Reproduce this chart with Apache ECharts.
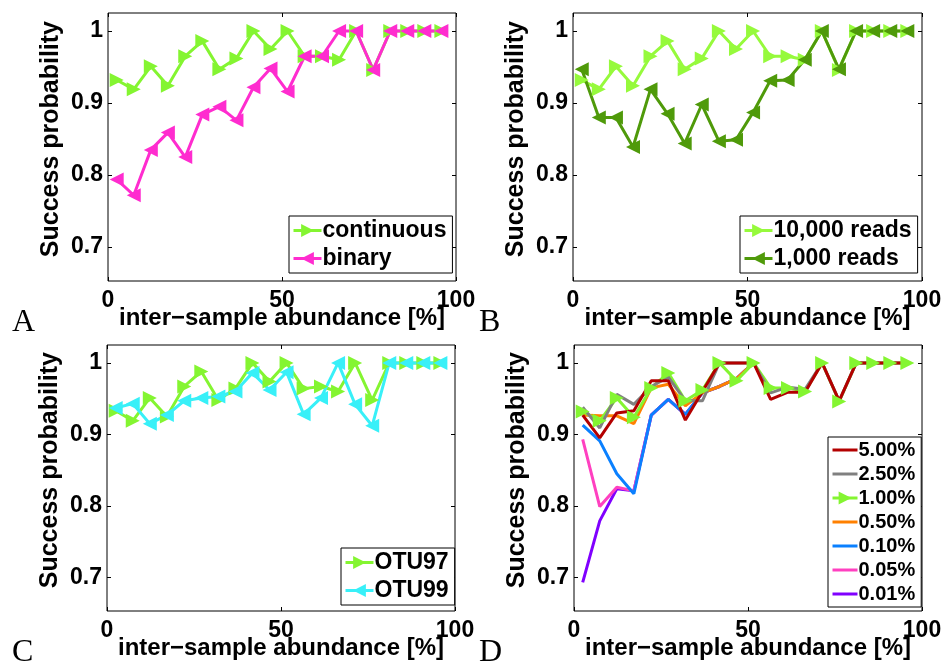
<!DOCTYPE html>
<html>
<head>
<meta charset="utf-8">
<script src="https://cdn.jsdelivr.net/npm/echarts@6/dist/echarts.min.js"></script>
<style>
html, body { margin: 0; padding: 0; background: #fff; }
#chart { width: 946px; height: 668px; }
</style>
</head>
<body>
<div id="chart"></div>
<script>
// inter-sample abundance of each bin (%)
var abundance = [2.5, 7.4, 12.3, 17.2, 22.2, 27.1, 32.0, 36.9, 41.8, 46.7, 51.6, 56.5, 61.5, 66.4, 71.3, 76.2, 81.1, 86.0, 90.9, 95.8];

// panel A
var continuous = [0.932, 0.919, 0.951, 0.924, 0.965, 0.986, 0.947, 0.962, 1.0, 0.975, 1.0, 0.965, 0.965, 0.960, 1.0, 0.946, 1.0, 1.0, 1.0, 1.0];
var binary     = [0.794, 0.772, 0.835, 0.859, 0.825, 0.884, 0.895, 0.876, 0.922, 0.948, 0.916, 0.965, 0.965, 1.0, 1.0, 0.946, 1.0, 1.0, 1.0, 1.0];

// panel B
var reads10000 = [0.932, 0.919, 0.951, 0.924, 0.965, 0.986, 0.947, 0.962, 1.0, 0.975, 1.0, 0.965, 0.965, 0.960, 1.0, 0.946, 1.0, 1.0, 1.0, 1.0];
var reads1000  = [0.947, 0.880, 0.880, 0.839, 0.919, 0.885, 0.844, 0.898, 0.847, 0.849, 0.887, 0.931, 0.932, 0.960, 1.0, 0.947, 1.0, 1.0, 1.0, 1.0];

// panel C
var otu97 = [0.933, 0.919, 0.951, 0.925, 0.967, 0.988, 0.948, 0.964, 1.0, 0.974, 1.0, 0.964, 0.967, 0.960, 1.0, 0.948, 1.0, 1.0, 1.0, 1.0];
var otu99 = [0.937, 0.943, 0.915, 0.927, 0.947, 0.951, 0.953, 0.960, 0.986, 0.962, 0.987, 0.928, 0.951, 1.0, 0.942, 0.912, 1.0, 1.0, 1.0, 1.0];

// panel D (threshold levels)
var lvl500 = [0.927, 0.895, 0.930, 0.933, 0.975, 0.975, 0.920, 0.960, 1.0, 1.0, 1.0, 0.949, 0.959, 0.959, 1.0, 0.947, 1.0, 1.0, 1.0, 1.0];
var lvl250 = [0.938, 0.909, 0.956, 0.942, 0.967, 0.980, 0.947, 0.947, 1.0, 1.0, 1.0, 0.958, 0.966, 0.963, 1.0, 0.947, 1.0, 1.0, 1.0, 1.0];
var lvl100 = [0.932, 0.919, 0.951, 0.924, 0.965, 0.986, 0.947, 0.962, 1.0, 0.975, 1.0, 0.965, 0.965, 0.960, 1.0, 0.946, 1.0, 1.0, 1.0, 1.0];
var lvl050 = [0.927, 0.926, 0.926, 0.915, 0.965, 0.970, 0.940, 0.958, 0.967, 0.978, 1.0];
var lvl010 = [0.913, 0.891, 0.845, 0.817, 0.927, 0.949, 0.928, 0.958, 0.967, 0.978, 1.0];
var lvl005 = [0.893, 0.799, 0.826, 0.821, 0.927, 0.949, 0.928, 0.958, 0.967, 0.978, 1.0];
var lvl001 = [0.693, 0.779, 0.824, 0.821, 0.927, 0.949, 0.928, 0.958, 0.967, 0.978, 1.0];

// axis limits and ticks
var yLo = 0.653, yHi = 1.025;
var yTickLo = 0.7, yTickHi = 1.0, yStep = 0.1;
var xLo = 0, xHi = 100, xStep = 50;

var FONT = '"Liberation Sans", Arial, sans-serif';

function pairs(ys) {
    return ys.map(function (y, i) { return [abundance[i], y]; });
}

var panels = [
    { left: 108, top: 13, width: 348, height: 268 },
    { left: 573, top: 13, width: 349, height: 268 },
    { left: 107, top: 345, width: 348, height: 266 },
    { left: 574, top: 345, width: 348, height: 266 }
];

var grids = [], xAxes = [], yAxes = [];
var tickLine = { color: '#000', width: 1 };
var labelFont = { fontSize: 23, fontWeight: 'bold', fontFamily: FONT, color: '#000' };

// data grids: box border, x ticks bottom+top
panels.forEach(function (g, i) {
    grids.push({ left: g.left, top: g.top, width: g.width, height: g.height,
                 show: true, borderColor: '#000', borderWidth: 1, backgroundColor: 'transparent' });
    xAxes.push({
        gridIndex: i, type: 'value', min: xLo, max: xHi, interval: xStep,
        name: 'inter\u2212sample abundance [%]', nameLocation: 'middle', nameGap: 25,
        nameMoveOverlap: false,
        nameTextStyle: { fontSize: 24, fontWeight: 'bold', fontFamily: FONT, color: '#000' },
        axisLine: { show: false },
        axisTick: { inside: true, length: 4, lineStyle: tickLine },
        axisLabel: Object.assign({ margin: 8 }, labelFont),
        splitLine: { show: false }
    });
    xAxes.push({
        gridIndex: i, type: 'value', position: 'top', min: xLo, max: xHi, interval: xStep,
        axisLine: { show: false },
        axisTick: { inside: true, length: 4, lineStyle: tickLine },
        axisLabel: { show: false }, splitLine: { show: false }
    });
    yAxes.push({
        gridIndex: i, type: 'value', min: yLo, max: yHi,
        axisLine: { show: false }, axisTick: { show: false },
        axisLabel: { show: false }, splitLine: { show: false }
    });
});

// tick grids: same pixels as the 0.7..1 part of each data grid, so the y ticks land on round values
panels.forEach(function (g, i) {
    var pxPerUnit = g.height / (yHi - yLo);
    grids.push({ left: g.left, width: g.width,
                 top: g.top + (yHi - yTickHi) * pxPerUnit,
                 height: (yTickHi - yTickLo) * pxPerUnit });
    var gi = panels.length + i;
    xAxes.push({ gridIndex: gi, type: 'value', min: xLo, max: xHi, show: false });
    yAxes.push({
        gridIndex: gi, type: 'value', min: yTickLo, max: yTickHi, interval: yStep,
        name: 'Success probability', nameLocation: 'middle', nameGap: 44, nameMoveOverlap: false,
        nameTextStyle: { fontSize: 25, fontWeight: 'bold', fontFamily: FONT, color: '#000' },
        axisLine: { show: false },
        axisTick: { inside: true, length: 4, lineStyle: tickLine },
        axisLabel: Object.assign({ margin: 5 }, labelFont),
        splitLine: { show: false }
    });
    yAxes.push({
        gridIndex: gi, type: 'value', position: 'right', min: yTickLo, max: yTickHi, interval: yStep,
        axisLine: { show: false },
        axisTick: { inside: true, length: 4, lineStyle: tickLine },
        axisLabel: { show: false }, splitLine: { show: false }
    });
});

function markerLine(name, ys, color, dir, panel) {
    return {
        name: name, type: 'line', xAxisIndex: panel * 2, yAxisIndex: panel,
        data: pairs(ys), symbol: 'triangle', symbolSize: 14,
        symbolRotate: dir === 'right' ? -90 : 90,
        itemStyle: { color: color }, lineStyle: { color: color, width: 3 },
        emphasis: { disabled: true }, animation: false
    };
}
function plainLine(name, ys, color) {
    return {
        name: name, type: 'line', xAxisIndex: 6, yAxisIndex: 3,
        data: pairs(ys), symbol: 'circle', symbolSize: 0, showSymbol: false,
        itemStyle: { color: color }, lineStyle: { color: color, width: 3 },
        emphasis: { disabled: true }, animation: false
    };
}

var series = [
    markerLine('continuous', continuous, '#84f531', 'right', 0),
    markerLine('binary', binary, '#ff2ccf', 'left', 0),
    markerLine('10,000 reads', reads10000, '#96fa3c', 'right', 1),
    markerLine('1,000 reads', reads1000, '#4f9a0a', 'left', 1),
    markerLine('OTU97', otu97, '#84f531', 'right', 2),
    markerLine('OTU99', otu99, '#38f0f8', 'left', 2),
    // low levels first so that 5.00% ends up on top
    plainLine('0.01%', lvl001, '#8000ff'),
    plainLine('0.05%', lvl005, '#ff40c0'),
    plainLine('0.10%', lvl010, '#0a80ff'),
    plainLine('0.50%', lvl050, '#ff8000'),
    markerLine('1.00%', lvl100, '#84f531', 'right', 3),
    plainLine('2.50%', lvl250, '#808080'),
    plainLine('5.00%', lvl500, '#b30000')
];

function legendBox(names, left, top, fontSize, gap, itemW, itemH) {
    return {
        data: names, orient: 'vertical', left: left, top: top,
        backgroundColor: '#fff', borderColor: '#000', borderWidth: 1,
        padding: [3, 6, 3, 3], itemGap: gap, itemWidth: itemW, itemHeight: itemH,
        selectedMode: false,
        lineStyle: { width: 3 },
        textStyle: { fontSize: fontSize, fontWeight: 'bold', fontFamily: FONT, color: '#000', padding: [0, 0, 0, -4] }
    };
}
// lines without markers: hide the legend dot
function noDot(name) { return { name: name, itemStyle: { opacity: 0 } }; }

var letters = [['A', 12, 307], ['B', 479, 307], ['C', 12, 637], ['D', 479, 637]];

var chart = echarts.init(document.getElementById('chart'));
chart.setOption({
    backgroundColor: '#fff',
    animation: false,
    grid: grids,
    xAxis: xAxes,
    yAxis: yAxes,
    legend: [
        legendBox(['continuous', 'binary'], 289, 216, 23, 5, 28, 16),
        legendBox(['10,000 reads', '1,000 reads'], 740, 216, 23, 5, 28, 16),
        legendBox(['OTU97', 'OTU99'], 341, 548, 23, 5, 28, 16),
        legendBox([noDot('5.00%'), noDot('2.50%'), '1.00%', noDot('0.50%'), noDot('0.10%'), noDot('0.05%'), noDot('0.01%')],
                  828, 437, 20, 4, 25, 16)
    ],
    graphic: letters.map(function (l) {
        return { type: 'text', left: l[1], top: l[2],
                 style: { text: l[0], font: '32px "Liberation Serif", "Times New Roman", serif', fill: '#000' } };
    }),
    series: series
});
</script>
</body>
</html>
